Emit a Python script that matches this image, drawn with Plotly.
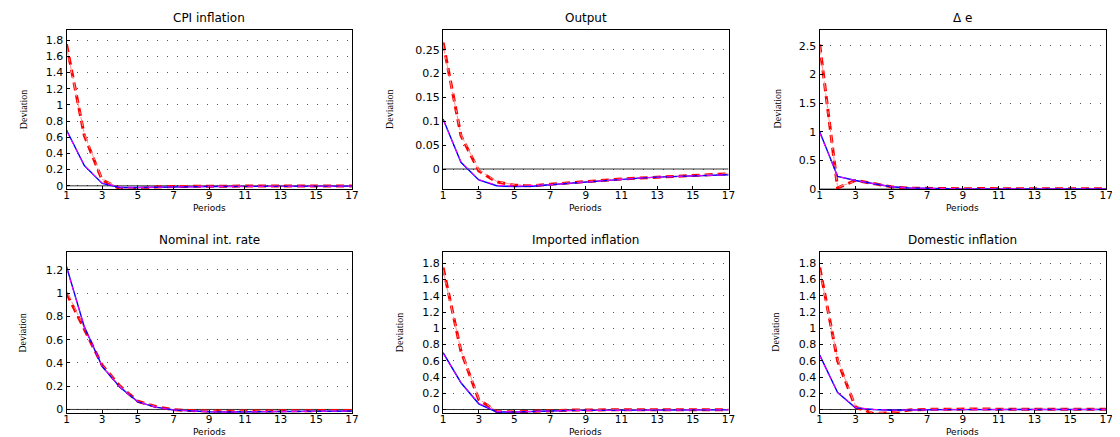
import plotly.graph_objects as go

periods = list(range(1, 18))

titles = ["CPI inflation", "Output", "Δ e", "Nominal int. rate", "Imported inflation", "Domestic inflation"]

# blue solid / magenta dashed (model A) ; red thick dashed / pink dash-dot (model B)
cpi_blue = [0.69, 0.25, 0.03, -0.02, -0.02, -0.015, -0.012, -0.01, -0.009, -0.008, -0.007, -0.006, -0.006, -0.005, -0.005, -0.004, -0.004]
cpi_mag = [0.68, 0.25, 0.035, -0.015, -0.02, -0.015, -0.012, -0.01, -0.009, -0.008, -0.007, -0.006, -0.006, -0.005, -0.005, -0.004, -0.004]
cpi_red = [1.75, 0.62, 0.07, -0.035, -0.035, -0.015, -0.008, -0.005, -0.004, -0.004, -0.003, -0.003, -0.003, -0.003, -0.003, -0.003, -0.003]
cpi_pink = [1.72, 0.64, 0.08, -0.03, -0.03, -0.015, -0.008, -0.005, -0.004, -0.004, -0.003, -0.003, -0.003, -0.003, -0.003, -0.003, -0.003]

out_blue = [0.105, 0.014, -0.023, -0.035, -0.037, -0.036, -0.033, -0.030, -0.027, -0.024, -0.021, -0.019, -0.017, -0.016, -0.014, -0.013, -0.012]
out_mag = [0.103, 0.015, -0.022, -0.034, -0.036, -0.035, -0.033, -0.030, -0.027, -0.024, -0.021, -0.019, -0.017, -0.016, -0.014, -0.013, -0.012]
out_red = [0.265, 0.07, -0.004, -0.027, -0.034, -0.035, -0.032, -0.029, -0.026, -0.023, -0.021, -0.019, -0.017, -0.015, -0.014, -0.012, -0.010]
out_pink = [0.26, 0.072, -0.002, -0.026, -0.033, -0.034, -0.032, -0.029, -0.026, -0.023, -0.021, -0.019, -0.017, -0.015, -0.014, -0.012, -0.010]

de_blue = [1.0, 0.22, 0.15, 0.09, 0.04, 0.018, 0.01, 0.006, 0.004, 0.003, 0.002, 0.002, 0.001, 0.001, 0.001, 0.001, 0.001]
de_mag = [0.98, 0.22, 0.15, 0.09, 0.04, 0.018, 0.01, 0.006, 0.004, 0.003, 0.002, 0.002, 0.001, 0.001, 0.001, 0.001, 0.001]
de_red = [2.52, 0.02, 0.15, 0.1, 0.04, 0.015, 0.008, 0.01, 0.006, 0.008, 0.006, 0.007, 0.005, 0.006, 0.005, 0.005, 0.004]
de_pink = [2.5, 0.03, 0.14, 0.1, 0.04, 0.015, 0.008, 0.01, 0.006, 0.008, 0.006, 0.007, 0.005, 0.006, 0.005, 0.005, 0.004]

nir_blue = [1.23, 0.71, 0.37, 0.19, 0.065, 0.02, -0.005, -0.015, -0.02, -0.022, -0.022, -0.021, -0.02, -0.018, -0.016, -0.015, -0.013]
nir_mag = [1.22, 0.71, 0.37, 0.19, 0.065, 0.02, -0.005, -0.015, -0.02, -0.022, -0.022, -0.021, -0.02, -0.018, -0.016, -0.015, -0.013]
nir_red = [1.0, 0.69, 0.38, 0.2, 0.07, 0.025, -0.003, -0.01, -0.014, -0.015, -0.014, -0.013, -0.012, -0.011, -0.01, -0.009, -0.008]
nir_pink = [1.02, 0.7, 0.38, 0.2, 0.07, 0.025, -0.003, -0.01, -0.014, -0.015, -0.014, -0.013, -0.012, -0.011, -0.01, -0.009, -0.008]

imp_blue = [0.7, 0.33, 0.07, -0.03, -0.03, -0.022, -0.017, -0.013, -0.011, -0.01, -0.009, -0.008, -0.007, -0.006, -0.005, -0.005, -0.004]
imp_mag = [0.69, 0.33, 0.075, -0.025, -0.03, -0.022, -0.017, -0.013, -0.011, -0.01, -0.009, -0.008, -0.007, -0.006, -0.005, -0.005, -0.004]
imp_red = [1.75, 0.72, 0.12, -0.025, -0.03, -0.02, -0.012, -0.008, -0.005, -0.004, -0.003, -0.003, -0.003, -0.002, -0.002, -0.002, -0.002]
imp_pink = [1.72, 0.73, 0.13, -0.02, -0.03, -0.02, -0.012, -0.008, -0.005, -0.004, -0.003, -0.003, -0.003, -0.002, -0.002, -0.002, -0.002]

dom_blue = [0.67, 0.21, 0.02, 0.0, -0.01, -0.005, -0.003, -0.002, -0.001, -0.001, -0.001, 0.0, 0.0, 0.0, 0.0, 0.0, 0.0]
dom_mag = [0.66, 0.21, 0.025, 0.002, -0.008, -0.005, -0.003, -0.002, -0.001, -0.001, -0.001, 0.0, 0.0, 0.0, 0.0, 0.0, 0.0]
dom_red = [1.75, 0.6, 0.03, -0.05, -0.04, -0.005, 0.002, 0.005, 0.004, 0.006, 0.004, 0.005, 0.004, 0.005, 0.004, 0.004, 0.004]
dom_pink = [1.72, 0.62, 0.04, -0.045, -0.035, -0.005, 0.002, 0.005, 0.004, 0.006, 0.004, 0.005, 0.004, 0.005, 0.004, 0.004, 0.004]

panels = [
    (cpi_blue, cpi_mag, cpi_red, cpi_pink),
    (out_blue, out_mag, out_red, out_pink),
    (de_blue, de_mag, de_red, de_pink),
    (nir_blue, nir_mag, nir_red, nir_pink),
    (imp_blue, imp_mag, imp_red, imp_pink),
    (dom_blue, dom_mag, dom_red, dom_pink),
]

yranges = [[-0.04, 1.93], [-0.042, 0.292], [0, 2.78], [-0.034, 1.354], [-0.048, 1.94], [-0.048, 1.94]]
ytickvals = [
    [0, 0.2, 0.4, 0.6, 0.8, 1, 1.2, 1.4, 1.6, 1.8],
    [0, 0.05, 0.1, 0.15, 0.2, 0.25],
    [0, 0.5, 1, 1.5, 2, 2.5],
    [0, 0.2, 0.4, 0.6, 0.8, 1, 1.2],
    [0, 0.2, 0.4, 0.6, 0.8, 1, 1.2, 1.4, 1.6, 1.8],
    [0, 0.2, 0.4, 0.6, 0.8, 1, 1.2, 1.4, 1.6, 1.8],
]
xtickvals = [1, 3, 5, 7, 9, 11, 13, 15, 17]

W, H = 1120, 437
xdoms_px = [(56, 344), (436, 724), (816, 1105)]
ydoms_px = [(22, 184), (248, 412)]
devx_px = [[12, 382, 773], [12, 392, 772]]

fig = go.Figure()
layout = dict(width=W, height=H, margin=dict(l=0, r=0, t=0, b=0),
              paper_bgcolor="white", plot_bgcolor="white", showlegend=False)
annotations = []

for i in range(6):
    r, c = divmod(i, 3)
    ax = "" if i == 0 else str(i + 1)
    xd = [xdoms_px[c][0] / W, xdoms_px[c][1] / W]
    yd = [1 - ydoms_px[r][1] / H, 1 - ydoms_px[r][0] / H]
    layout["xaxis" + ax] = dict(domain=xd, anchor="y" + ax, range=[1, 17], tickvals=xtickvals,
                                showgrid=False, zeroline=False, showline=True, mirror=True,
                                linecolor="black", linewidth=1.3, ticks="inside", ticklen=3,
                                tickcolor="black", ticklabelstandoff=-4,
                                tickfont=dict(family="DejaVu Sans", size=10.5, color="black"))
    layout["yaxis" + ax] = dict(domain=yd, anchor="x" + ax, range=yranges[i], tickvals=ytickvals[i],
                                showgrid=True, gridcolor="#555555", griddash="1px,9px", gridwidth=1,
                                zeroline=False, showline=True, mirror=True,
                                linecolor="black", linewidth=1.3, ticks="inside", ticklen=3,
                                tickcolor="black",
                                tickfont=dict(family="DejaVu Sans", size=11, color="black"))
    xr, yr = "x" + ax, "y" + ax
    blue, mag, red, pink = panels[i]
    fig.add_trace(go.Scatter(x=[1, 17], y=[0, 0], mode="lines", xaxis=xr, yaxis=yr,
                             line=dict(color="black", width=0.8), hoverinfo="skip"))
    fig.add_trace(go.Scatter(x=periods, y=red, mode="lines", xaxis=xr, yaxis=yr,
                             line=dict(color="#FF0000", width=3, dash="8px,5px")))
    fig.add_trace(go.Scatter(x=periods, y=pink, mode="lines", xaxis=xr, yaxis=yr,
                             line=dict(color="#FF9090", width=1, dash="dashdot")))
    fig.add_trace(go.Scatter(x=periods, y=blue, mode="lines", xaxis=xr, yaxis=yr,
                             line=dict(color="#0000FF", width=1.4)))
    fig.add_trace(go.Scatter(x=periods, y=mag, mode="lines", xaxis=xr, yaxis=yr,
                             line=dict(color="#FF00FF", width=1, dash="6px,4px")))
    cx = (xdoms_px[c][0] + xdoms_px[c][1]) / 2 / W
    annotations.append(dict(text=titles[i], xref="paper", yref="paper", x=cx,
                            y=1 - (ydoms_px[r][0] - 3) / H, yanchor="bottom", xanchor="center",
                            showarrow=False, font=dict(family="DejaVu Sans", size=12, color="black")))
    annotations.append(dict(text="Periods", xref="paper", yref="paper", x=cx,
                            y=1 - (ydoms_px[r][1] + 25) / H, yanchor="bottom", xanchor="center",
                            showarrow=False, borderpad=0,
                            font=dict(family="DejaVu Sans", size=9, color="black")))
    annotations.append(dict(text="Deviation", xref="paper", yref="paper", x=devx_px[r][c] / W,
                            y=1 - (ydoms_px[r][0] + ydoms_px[r][1]) / 2 / H, textangle=-90,
                            yanchor="middle", xanchor="center", showarrow=False,
                            font=dict(family="Liberation Sans Narrow", size=10, color="black")))

layout["annotations"] = annotations
fig.update_layout(**layout)
fig.write_html("out.html")
